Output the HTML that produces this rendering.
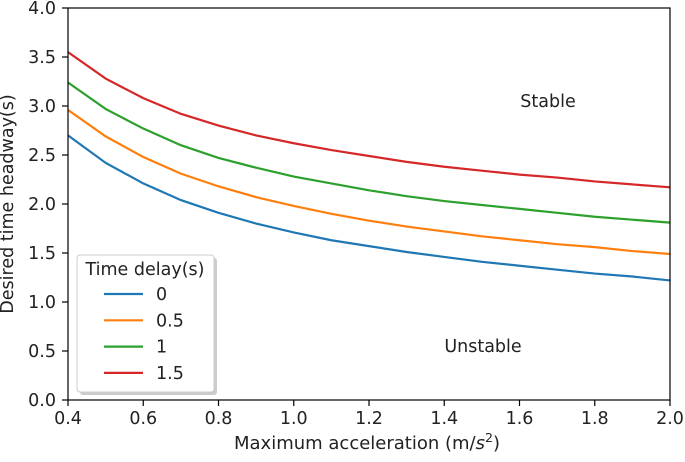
<!DOCTYPE html>
<html><head><meta charset="utf-8"><style>
body{margin:0;background:#fff;}
svg text{font-family:"DejaVu Sans","Liberation Sans",sans-serif;fill:#222;}
</style></head><body>
<svg id="chart" width="685" height="457" xmlns="http://www.w3.org/2000/svg">
<g id="lines"></g>
<rect x="68" y="8" width="602" height="392" fill="none" stroke="#000" stroke-width="1.2"/>
<g id="ticks"></g>
<text x="13" y="204" font-size="17.5" text-anchor="middle" transform="rotate(-90 13 204)">Desired time headway(s)</text>
<text x="367" y="449" font-size="18" text-anchor="middle">Maximum acceleration (m/<tspan font-style="italic">s</tspan><tspan font-size="12.5" dy="-7">2</tspan><tspan dy="7">)</tspan></text>
<text x="548" y="107" font-size="17.5" text-anchor="middle">Stable</text>
<text x="483" y="352" font-size="17.5" text-anchor="middle">Unstable</text>
<g>
<rect x="80" y="258" width="137" height="137" rx="3" fill="#999" fill-opacity="0.5"/>
<rect x="77" y="255" width="137" height="137" rx="3" fill="#fff" stroke="#ccc"/>
<text x="145" y="275" font-size="17.5" text-anchor="middle">Time delay(s)</text>
<g id="legend-entries"></g>
</g>
</svg>
<script>
const xs=[0.4,0.5,0.6,0.7,0.8,0.9,1.0,1.1,1.2,1.3,1.4,1.5,1.6,1.7,1.8,1.9,2.0];
const delay0=[2.70,2.42,2.21,2.04,1.91,1.80,1.71,1.63,1.57,1.51,1.46,1.41,1.37,1.33,1.29,1.26,1.22];
const delay05=[2.96,2.69,2.48,2.31,2.18,2.07,1.98,1.90,1.83,1.77,1.72,1.67,1.63,1.59,1.56,1.52,1.49];
const delay1=[3.24,2.97,2.77,2.60,2.47,2.37,2.28,2.21,2.14,2.08,2.03,1.99,1.95,1.91,1.87,1.84,1.81];
const delay15=[3.55,3.28,3.08,2.92,2.80,2.70,2.62,2.55,2.49,2.43,2.38,2.34,2.30,2.27,2.23,2.20,2.17];
const seriesNames=["0","0.5","1","1.5"];
const xTicks=["0.4","0.6","0.8","1.0","1.2","1.4","1.6","1.8","2.0"];
const yTicks=["0.0","0.5","1.0","1.5","2.0","2.5","3.0","3.5","4.0"];
const series=[delay0,delay05,delay1,delay15];
const colors=["#1f77b4","#ff7f0e","#2ca02c","#d62728"];
const NS="http://www.w3.org/2000/svg";
const X=v=>68+(v-0.4)/1.6*602;
const Y=v=>400-v/4*392;
function mk(t,a,p){const e=document.createElementNS(NS,t);for(const k in a)e.setAttribute(k,a[k]);p.appendChild(e);return e;}
const tk=document.getElementById('ticks');
xTicks.forEach(s=>{const x=X(+s);
const l=mk('line',{x1:x,x2:x,y1:400,y2:406,stroke:'#000','stroke-width':1.2},tk);


const t=mk('text',{x:x,y:424,'font-size':17.5,'text-anchor':'middle'},tk);t.textContent=s;

});
yTicks.forEach(s=>{const y=Y(+s);
const l=mk('line',{x1:62,x2:68,y1:y,y2:y,stroke:'#000','stroke-width':1.2},tk);


const t=mk('text',{x:56,y:y+6,'font-size':17.5,'text-anchor':'end'},tk);t.textContent=s;

});
const lg=document.getElementById('lines');
series.forEach((d,i)=>{const p=mk('polyline',{points:d.map((v,j)=>X(xs[j])+','+Y(v)).join(' '),fill:'none',stroke:colors[i],'stroke-width':2.2},lg);

});
const le=document.getElementById('legend-entries');
seriesNames.forEach((n,i)=>{const y=294+i*26.3;
const l=mk('line',{x1:104,x2:143,y1:y,y2:y,stroke:colors[i],'stroke-width':2.2},le);


const t=mk('text',{x:156,y:y+6,'font-size':17.5},le);t.textContent=n;

});
</script>
</body></html>
